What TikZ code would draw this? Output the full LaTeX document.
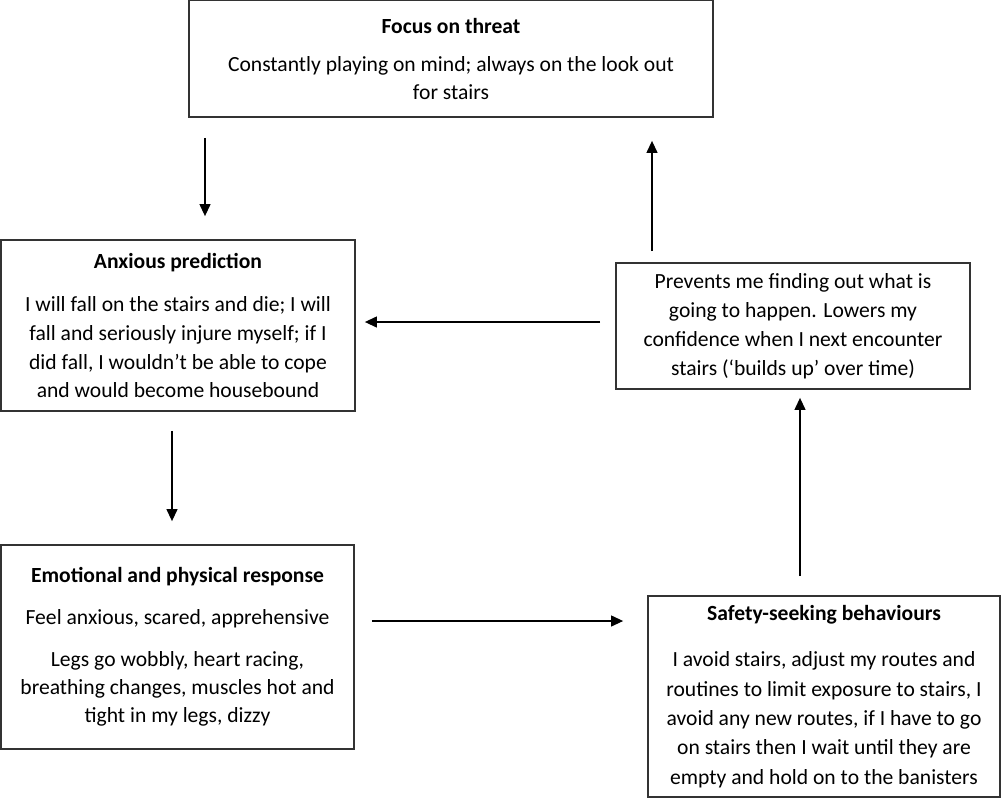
\documentclass[tikz,border=0pt]{standalone}
\usepackage{fontspec}
\setmainfont{Carlito}
\usetikzlibrary{arrows.meta}
\tikzset{
  box/.style={draw=black!80, line width=0.9pt, align=center, inner sep=0pt,
    font=\fontsize{10.8}{14.5}\selectfont},
  arr/.style={-{Triangle[length=6pt,width=5.5pt]}, line width=0.6pt},
}

\begin{document}
\begin{tikzpicture}[x=0.5pt,y=-0.5pt]

  \newcommand\Gap{\\[7.5pt]}
  \useasboundingbox (0,0) rectangle (1001,798);

  \node[box, minimum width=262pt, minimum height=58.5pt,
    font=\fontsize{10.8}{14}\selectfont] (focus) at (451,58.5)
    {\textbf{Focus on threat}\\[5pt]
     Constantly playing on mind; always on the look out\\ for stairs};
  \node[box, minimum width=177pt, minimum height=85.5pt,
    font=\fontsize{10.8}{14.3}\selectfont] (anx) at (178,325.5)
    {\textbf{Anxious prediction}\Gap
     I will fall on the stairs and die; I will\\
     fall and seriously injure myself; if I\\
     did fall, I wouldn’t be able to cope\\
     and would become housebound};
  \node[box, minimum width=177pt, minimum height=63pt] (prev) at (793,326)
    {Prevents me finding out what is\\
     going to happen. Lowers my\\
     confidence when I next encounter\\
     stairs (‘builds up’ over time)};
  \node[box, minimum width=176.5pt, minimum height=102pt,
    font=\fontsize{10.8}{14}\selectfont] (emo) at (177.5,647)
    {\textbf{Emotional and physical response}\\[7pt]
     Feel anxious, scared, apprehensive\\[7pt]
     Legs go wobbly, heart racing,\\
     breathing changes, muscles hot and\\
     tight in my legs, dizzy};
  \node[box, minimum width=176pt, minimum height=100.5pt,
    font=\fontsize{10.8}{14.7}\selectfont] (safe) at (824,696.5)
    {\textbf{Safety-seeking behaviours}\\[8.5pt]
     I avoid stairs, adjust my routes and\\
     routines to limit exposure to stairs, I\\
     avoid any new routes, if I have to go\\
     on stairs then I wait until they are\\
     empty and hold on to the banisters};

  \draw[arr, shorten <=10pt, shorten >=11.5pt] (205,0 |- focus.south) -- (205,0 |- anx.north); %% focus->anx
  \draw[arr, shorten <=9.5pt, shorten >=11.5pt] (172,0 |- anx.south) -- (172,0 |- emo.north); %% anx->emo
  \draw[arr, shorten <=8.5pt, shorten >=12pt] (emo.east |- 0,621) -- (safe.west |- 0,621); %% emo->safe
  \draw[arr, shorten <=9.5pt, shorten >=4pt] (800,0 |- safe.north) -- (800,0 |- prev.south); %% safe->prev
  \draw[arr, shorten <=7.5pt, shorten >=4.5pt] (prev.west |- 0,322) -- (anx.east |- 0,322); %% prev->anx
  \draw[arr, shorten <=5.5pt, shorten >=11.5pt] (652,0 |- prev.north) -- (652,0 |- focus.south); %% prev->focus
\end{tikzpicture}
\end{document}
